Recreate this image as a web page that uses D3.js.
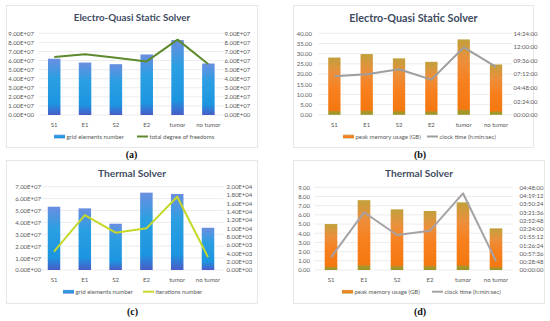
<!DOCTYPE html>
<html>
<head>
<meta charset="UTF-8" />
<script src="https://d3js.org/d3.v7.min.js"></script>
<style>
  body { margin: 0; background: #fff; }
  svg text { font-family: "Liberation Sans Narrow", Lato, sans-serif; }
</style>
</head>
<body>
<div id="chart"></div>
<script>
// ---- data ----
const categories = ["S1", "E1", "S2", "E2", "tumor", "no tumor"];

// electro-quasi static solver
const eqsGridElements = [6.2e7, 5.78e7, 5.6e7, 6.67e7, 8.25e7, 5.67e7];
const eqsDegreesOfFreedom = [6.4e7, 6.7e7, 6.3e7, 5.9e7, 8.3e7, 5.6e7];
const eqsPeakMemory = [28.1, 29.8, 27.7, 26.0, 37.0, 24.7];
const eqsClockTime = ["06:48:00", "07:10:00", "08:03:00", "06:13:00", "11:54:00", "08:28:00"];

// thermal solver
const thGridElements = [5.32e7, 5.18e7, 3.89e7, 6.5e7, 6.39e7, 3.55e7];
const thIterations = [4400, 13200, 8960, 10000, 17600, 3100];
const thPeakMemory = [5.0, 7.6, 6.6, 6.42, 7.36, 4.53];
const thClockTime = ["00:44:14", "03:20:56", "02:01:53", "02:16:52", "04:27:05", "00:31:20"];

// axis ticks
const ticksE7 = d3.range(0, 10).map(i => i * 1e7);          // 0 .. 9E+07
const ticksE7b = d3.range(0, 8).map(i => i * 1e7);          // 0 .. 7E+07
const ticksIter = d3.range(0, 11).map(i => i * 2000);       // 0 .. 2E+04
const ticksMemB = d3.range(0, 9).map(i => i * 5);           // 0 .. 40
const ticksMemD = d3.range(0, 10);                           // 0 .. 9
const ticksTimeB = ["00:00:00", "02:24:00", "04:48:00", "07:12:00", "09:36:00", "12:00:00", "14:24:00"];
const ticksTimeD = ["00:00:00", "00:28:48", "00:57:36", "01:26:24", "01:55:12", "02:24:00",
                    "02:52:48", "03:21:36", "03:50:24", "04:19:12", "04:48:00"];

function toSec(s) {
    const p = s.split(":").map(Number);
    return p[0] * 3600 + p[1] * 60 + p[2];
}
function fmtTime(v) {
    const h = Math.floor(v / 3600), m = Math.floor((v % 3600) / 60), s = Math.round(v % 60);
    return [h, m, s].map(d => String(d).padStart(2, "0")).join(":");
}
function fmtExp(v) {
    const [m, e] = v.toExponential(2).split("e");
    const n = +e;
    return m + "E" + (n < 0 ? "-" : "+") + String(Math.abs(n)).padStart(2, "0");
}
const fmt2 = d3.format(".2f");

const svg = d3.select("#chart").append("svg")
    .attr("width", 550).attr("height", 321);

const defs = svg.append("defs");
const blue = defs.append("linearGradient").attr("id", "gBlue")
    .attr("x1", 0).attr("y1", 0).attr("x2", 0).attr("y2", 1);
[[0, "#6b8ee0"], [0.35, "#2b9fe2"], [0.8, "#1c95e0"], [1, "#4a5cc6"]]
    .forEach(s => blue.append("stop").attr("offset", s[0]).attr("stop-color", s[1]));
const orange = defs.append("linearGradient").attr("id", "gOrange")
    .attr("x1", 0).attr("y1", 0).attr("x2", 0).attr("y2", 1);
[[0, "#c2a03c"], [0.28, "#ec8f3c"], [0.55, "#f7801f"], [0.92, "#f47810"], [0.95, "#a8962a"], [1, "#9a9428"]]
    .forEach(s => orange.append("stop").attr("offset", s[0]).attr("stop-color", s[1]));

const panels = [
    {
        label: "(a)", title: "Electro-Quasi Static Solver", titleSize: 9.8,
        box: [6, 5, 257, 147], xr: [38.8, 223.8], yr: [33.3, 115], titleY: 21,
        bars: eqsGridElements, line: eqsDegreesOfFreedom,
        lTicks: ticksE7, lMax: 9e7, lFmt: fmtExp, rTicks: ticksE7, rMax: 9e7, rFmt: fmtExp,
        lx: 34, rx: 224.5, xlY: 125.5, barW: 12.5,
        fill: "url(#gBlue)", lineColor: "#5e8a2e",
        legY: 136.5, leg1: [54, "grid elements number"], leg2: [137, "total degree of freedoms"],
        panelX: 131.5, panelY: 158
    },
    {
        label: "(b)", title: "Electro-Quasi Static Solver", titleSize: 10.8,
        box: [293, 5, 533, 147], xr: [318.2, 512.2], yr: [33.3, 114.8], titleY: 22,
        bars: eqsPeakMemory, line: eqsClockTime.map(toSec),
        lTicks: ticksMemB, lMax: 40, lFmt: fmt2, rTicks: ticksTimeB.map(toSec), rMax: toSec("14:24:00"), rFmt: fmtTime,
        lx: 312, rx: 513.5, xlY: 125.5, barW: 12.3,
        fill: "url(#gOrange)", lineColor: "#9e9e9e",
        legY: 136.5, leg1: [343, "peak memory usage (GB)"], leg2: [427, "clock time (h:min:sec)"],
        panelX: 420, panelY: 158
    },
    {
        label: "(c)", title: "Thermal Solver", titleSize: 10.2,
        box: [6, 160, 257, 303], xr: [38.6, 223.4], yr: [186.7, 270], titleY: 176.5,
        bars: thGridElements, line: thIterations,
        lTicks: ticksE7b, lMax: 7e7, lFmt: fmtExp, rTicks: ticksIter, rMax: 2e4, rFmt: fmtExp,
        lx: 41, rx: 226.5, xlY: 280.5, barW: 12.5,
        fill: "url(#gBlue)", lineColor: "#c5d829",
        legY: 291.7, leg1: [63, "grid elements number"], leg2: [143, "iterations number"],
        panelX: 132.5, panelY: 315
    },
    {
        label: "(d)", title: "Thermal Solver", titleSize: 10.2,
        box: [293, 160, 544, 303], xr: [314.5, 512.5], yr: [187.3, 270], titleY: 176.5,
        bars: thPeakMemory, line: thClockTime.map(toSec),
        lTicks: ticksMemD, lMax: 9, lFmt: fmt2, rTicks: ticksTimeD.map(toSec), rMax: toSec("04:48:00"), rFmt: fmtTime,
        lx: 310, rx: 519.5, xlY: 280.5, barW: 12.6,
        fill: "url(#gOrange)", lineColor: "#a7a2a5",
        legY: 291.7, leg1: [342, "peak memory usage (GB)"], leg2: [432, "clock time (h:min:sec)"],
        panelX: 420, panelY: 315
    }
];

panels.forEach(p => {
    const g = svg.append("g");
    const [bx0, by0, bx1, by1] = p.box;

    g.append("rect").attr("x", bx0 + 0.5).attr("y", by0 + 0.5)
        .attr("width", bx1 - bx0).attr("height", by1 - by0)
        .attr("fill", "#fff").attr("stroke", "#e2e2e2").attr("stroke-width", 0.8);

    g.append("text").attr("x", (bx0 + bx1) / 2 + 0.5).attr("y", p.titleY)
        .attr("text-anchor", "middle").attr("font-weight", "bold")
        .style("font-family", "Lato, sans-serif")
        .attr("font-size", p.titleSize).attr("fill", "#414c63").text(p.title);

    const x = d3.scaleBand().domain(categories).range(p.xr);
    const yL = d3.scaleLinear().domain([0, p.lMax]).range([p.yr[1], p.yr[0]]);
    const yR = d3.scaleLinear().domain([0, p.rMax]).range([p.yr[1], p.yr[0]]);

    // gridlines follow the left axis
    g.append("g").selectAll("line").data(p.lTicks).join("line")
        .attr("x1", p.xr[0]).attr("x2", p.xr[1])
        .attr("y1", d => yL(d)).attr("y2", d => yL(d))
        .attr("stroke", "#e4e4e4").attr("stroke-width", 0.7);

    const axisStyle = sel => {
        sel.select(".domain").remove();
        sel.selectAll("line").remove();
        sel.selectAll("text").attr("font-size", 6).attr("fill", "#595959")
            .style("font-family", "'Liberation Sans Narrow', Lato, sans-serif");
    };
    g.append("g").attr("transform", `translate(${p.lx + 3},0)`)
        .call(d3.axisLeft(yL).tickValues(p.lTicks).tickFormat(p.lFmt).tickSize(0).tickPadding(3))
        .call(axisStyle);
    g.append("g").attr("transform", `translate(${p.rx - 3},0)`)
        .call(d3.axisRight(yR).tickValues(p.rTicks).tickFormat(p.rFmt).tickSize(0).tickPadding(3))
        .call(axisStyle);
    g.append("g").attr("transform", `translate(0,${p.xlY - 3})`)
        .call(d3.axisBottom(x).tickSize(0).tickPadding(0))
        .call(axisStyle);

    g.append("g").selectAll("rect").data(p.bars).join("rect")
        .attr("x", (d, i) => x(categories[i]) + x.bandwidth() / 2 - p.barW / 2)
        .attr("width", p.barW)
        .attr("y", d => yL(d))
        .attr("height", d => yL(0) - yL(d))
        .attr("fill", p.fill);

    const line = d3.line()
        .x((d, i) => x(categories[i]) + x.bandwidth() / 2)
        .y(d => yR(d));
    g.append("path").datum(p.line).attr("d", line)
        .attr("fill", "none").attr("stroke", p.lineColor)
        .attr("stroke-width", 2).attr("stroke-linejoin", "round");

    // legend
    g.append("rect").attr("x", p.leg1[0]).attr("y", p.legY - 1.8)
        .attr("width", 11).attr("height", 3.6).attr("fill", p.fill);
    g.append("text").attr("x", p.leg1[0] + 12.5).attr("y", p.legY + 2)
        .attr("font-size", 6).attr("fill", "#595959").text(p.leg1[1]);
    g.append("line").attr("x1", p.leg2[0]).attr("x2", p.leg2[0] + 11)
        .attr("y1", p.legY).attr("y2", p.legY)
        .attr("stroke", p.lineColor).attr("stroke-width", 2);
    g.append("text").attr("x", p.leg2[0] + 12.5).attr("y", p.legY + 2)
        .attr("font-size", 6).attr("fill", "#595959").text(p.leg2[1]);

    svg.append("text").attr("x", p.panelX).attr("y", p.panelY)
        .attr("text-anchor", "middle").attr("font-weight", "bold")
        .style("font-family", "'Liberation Serif', serif")
        .attr("font-size", 10).attr("fill", "#111").text(p.label);
});
</script>
</body>
</html>
